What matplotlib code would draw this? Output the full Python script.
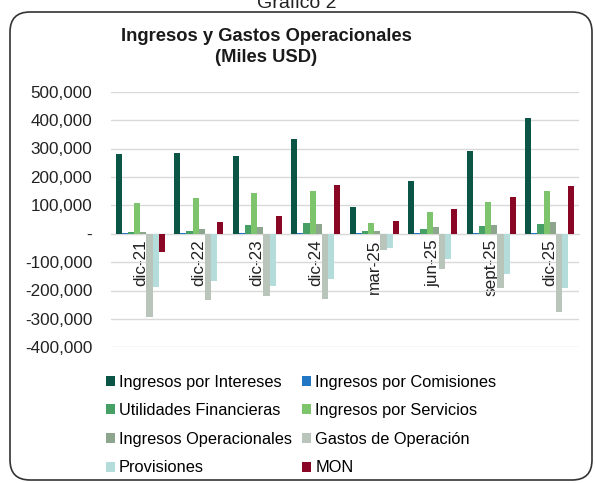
import matplotlib
matplotlib.use("Agg")
import matplotlib.pyplot as plt
import numpy as np
from matplotlib.patches import FancyBboxPatch, Patch
from matplotlib.ticker import FuncFormatter

plt.rcParams['font.family'] = ['Liberation Sans', 'DejaVu Sans']

categories = ["dic-21", "dic-22", "dic-23", "dic-24", "mar-25", "jun-25", "sept-25", "dic-25"]
series_names = ["Ingresos por Intereses", "Ingresos por Comisiones", "Utilidades Financieras",
                "Ingresos por Servicios", "Ingresos Operacionales", "Gastos de Operación",
                "Provisiones", "MON"]
intereses = [281000, 284000, 275000, 332000, 93000, 187000, 290000, 406000]
comisiones = [3000, 4000, 1000, 4000, 1000, 1000, 1000, 2000]
utilidades = [5000, 10000, 30000, 39000, 8000, 18000, 27000, 33000]
servicios = [109000, 125000, 143000, 150000, 38000, 77000, 113000, 150000]
operacionales = [5000, 16000, 25000, 33000, 8000, 22000, 30000, 41000]
gastos = [-292000, -233000, -220000, -230000, -57000, -125000, -191000, -275000]
provisiones = [-187000, -167000, -185000, -160000, -49000, -89000, -143000, -192000]
mon = [-65000, 41000, 61000, 173000, 44000, 87000, 128000, 167000]
yticks = [-400000, -300000, -200000, -100000, 0, 100000, 200000, 300000, 400000, 500000]

values = [intereses, comisiones, utilidades, servicios, operacionales, gastos, provisiones, mon]
colors = ["#0A5546", "#2277C4", "#46A066", "#7DC46C", "#8DA58C", "#B9C5BA", "#B3DCDA", "#8A0625"]

fig = plt.figure(figsize=(5.95, 4.83), dpi=100)
ax = fig.add_axes([111/595, 1-347.3/483, 468/595, (347.3-91.7)/483])

n = len(series_names)
w = 1.0 / (n + 1.55)
x = np.arange(len(categories))
for i, (vals, c) in enumerate(zip(values, colors)):
    ax.bar(x + (i - (n - 1) / 2) * w, vals, width=w, color=c, zorder=3, linewidth=0)

ax.set_xlim(-0.5, len(categories) - 0.5)
ax.set_ylim(-400000, 500000)
ax.set_yticks(yticks)
ax.yaxis.set_major_formatter(FuncFormatter(lambda v, p: "-" if v == 0 else f"{int(v):,}"))
ax.grid(axis='y', color='#D9D9D9', linewidth=1, zorder=0)
for s in ['top', 'right', 'left']:
    ax.spines[s].set_visible(False)
ax.spines['bottom'].set_position(('data', 0))
ax.spines['bottom'].set_color('#D9D9D9')
ax.set_xticks(x)
ax.set_xticklabels(categories, rotation=90, fontsize=12.3, color='#222222')
ax.tick_params(axis='x', length=0, pad=4)
ax.tick_params(axis='y', length=0, labelsize=12.3, labelcolor='#222222', pad=13.5)

fig.text(266/595, 1-47/483, "Ingresos y Gastos Operacionales\n(Miles USD)", ha='center', va='center',
         fontsize=13.2, fontweight='bold', color='#1a1a1a', linespacing=1.3)
fig.text(297/595, 1-8/483, "Gráfico 2", ha='center', va='baseline', fontsize=14, color='#222222')

box = FancyBboxPatch((0.10, 0.03), 5.82, 4.68, boxstyle="round,pad=0,rounding_size=0.2",
                     transform=fig.dpi_scale_trans, fill=False, edgecolor='#333333', linewidth=1.2)
fig.patches.append(box)

order = [0, 2, 4, 6, 1, 3, 5, 7]
handles = [Patch(facecolor=colors[i], edgecolor='none') for i in order]
labels = [series_names[i] for i in order]
fig.legend(handles, labels, ncol=2, loc='upper left', bbox_to_anchor=(99/595, 1-368/483),
           frameon=False, fontsize=11.8, handlelength=0.55, handleheight=0.55,
           handletextpad=0.25, columnspacing=0.65, labelspacing=0.83, borderaxespad=0)

fig.savefig("out.png", dpi=100)
